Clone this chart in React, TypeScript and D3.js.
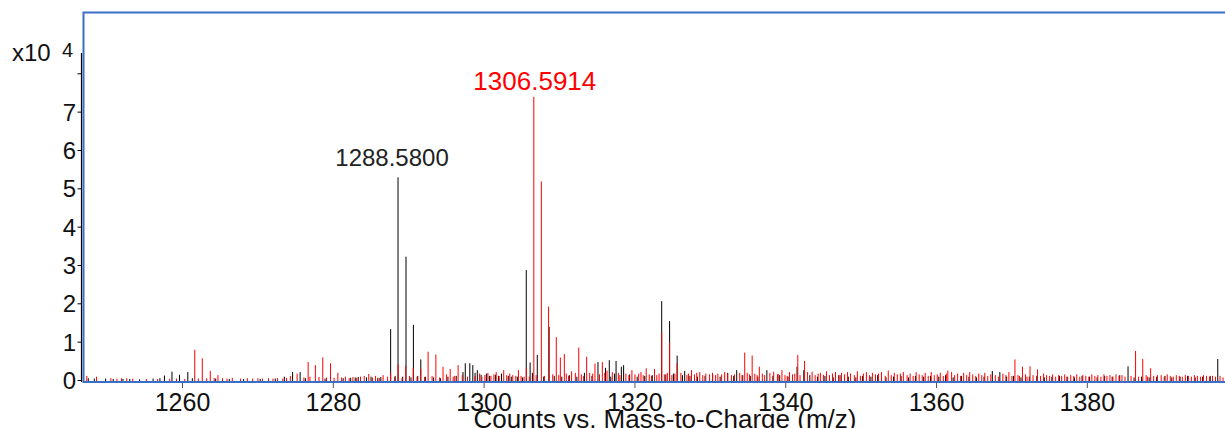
import React from "react";
import * as d3 from "d3";

// Intensities are in units of 10^4 counts.
type Peak = [number, number];

// Annotated base peaks (m/z, intensity)
const labelledBlack: Peak = [1288.58, 5.3];
const labelledRed: Peak = [1306.5914, 7.4];

// Main black (profile A) sticks
const blackMajor: Peak[] = [
  [1257.6, 0.13], [1258.6, 0.23], [1259.6, 0.15], [1260.7, 0.22],
  [1274.6, 0.22], [1275.6, 0.22],
  [1287.6, 1.34], labelledBlack, [1289.64, 3.23], [1290.62, 1.45], [1291.6, 0.55],
  [1297.5, 0.45], [1298.1, 0.45], [1298.5, 0.4], [1299.1, 0.27],
  [1305.59, 2.88], [1306.1, 0.47], [1307.05, 0.67], [1308.62, 1.4],
  [1315.1, 0.48], [1316.1, 0.33], [1316.6, 0.53], [1317.5, 0.51], [1318.5, 0.4],
  [1323.55, 2.07], [1324.6, 1.55], [1325.6, 0.65], [1326.6, 0.25],
  [1333.5, 0.27], [1337.5, 0.27], [1341.5, 0.36], [1342.4, 0.27],
  [1367.4, 0.25], [1368.4, 0.22], [1385.4, 0.37], [1397.3, 0.56],
];

// Low-level black noise sticks
const blackGrass: Peak[] = [
  [1247.5, 0.06], [1248.3, 0.05], [1249.8, 0.05], [1250.8, 0.04], [1252.1, 0.04],
  [1253.0, 0.04], [1254.3, 0.03], [1256.1, 0.05], [1257.0, 0.06], [1261.3, 0.06],
  [1264.4, 0.05], [1266.2, 0.04], [1268.1, 0.04], [1270.3, 0.04], [1272.3, 0.05],
  [1273.5, 0.1], [1276.3, 0.06], [1278.9, 0.05], [1281.3, 0.06], [1282.3, 0.07],
  [1282.9, 0.08], [1283.3, 0.09], [1284.4, 0.08], [1285.0, 0.1], [1285.9, 0.07],
  [1286.3, 0.09], [1288.2, 0.12], [1289.2, 0.1], [1290.3, 0.08], [1291.2, 0.12],
  [1292.2, 0.1], [1293.3, 0.08], [1294.2, 0.06], [1295.2, 0.1], [1296.3, 0.12],
  [1297.2, 0.22], [1298.8, 0.2], [1299.6, 0.15], [1300.3, 0.18], [1300.7, 0.12],
  [1301.5, 0.15], [1301.9, 0.12], [1302.3, 0.18], [1303.2, 0.12], [1303.6, 0.1],
  [1304.4, 0.1], [1305.1, 0.08], [1306.4, 0.2], [1307.9, 0.1], [1309.3, 0.12],
  [1310.3, 0.1], [1311.3, 0.14], [1312.3, 0.1], [1313.3, 0.2], [1314.3, 0.12],
  [1316.8, 0.1], [1317.3, 0.18], [1318.2, 0.36], [1319.3, 0.16], [1320.3, 0.1],
  [1321.3, 0.12], [1322.3, 0.14], [1324.1, 0.16], [1325.1, 0.18], [1326.3, 0.14],
  [1327.3, 0.12], [1328.3, 0.1], [1329.3, 0.12], [1330.3, 0.16], [1331.3, 0.1],
  [1332.3, 0.2], [1333.1, 0.12], [1334.3, 0.14], [1335.3, 0.12], [1336.3, 0.1],
  [1338.3, 0.12], [1339.2, 0.14], [1340.3, 0.1], [1343.2, 0.14], [1344.2, 0.1],
  [1345.2, 0.12], [1346.3, 0.08], [1347.2, 0.14], [1348.3, 0.1], [1349.3, 0.08],
  [1350.2, 0.12], [1351.3, 0.1], [1352.2, 0.14], [1353.3, 0.08], [1354.3, 0.1],
  [1355.3, 0.12], [1356.3, 0.08], [1357.2, 0.12], [1358.3, 0.1], [1359.2, 0.12],
  [1360.3, 0.1], [1361.2, 0.14], [1362.2, 0.08], [1363.3, 0.12], [1364.3, 0.1],
  [1365.3, 0.08], [1366.3, 0.1], [1369.3, 0.1], [1370.2, 0.12], [1371.2, 0.08],
  [1372.3, 0.1], [1373.3, 0.12], [1374.3, 0.08], [1375.3, 0.1], [1376.3, 0.12],
  [1377.3, 0.1], [1378.3, 0.08], [1379.3, 0.12], [1380.3, 0.1], [1381.3, 0.08],
  [1382.3, 0.12], [1383.3, 0.1], [1384.3, 0.14], [1386.2, 0.08], [1387.2, 0.1],
  [1388.2, 0.08], [1389.2, 0.1], [1390.3, 0.12], [1391.2, 0.08], [1392.3, 0.1],
  [1393.3, 0.12], [1394.3, 0.08], [1395.3, 0.1], [1396.3, 0.12],
];

// Main red (profile B) sticks
const redMajor: Peak[] = [
  [1261.62, 0.8], [1262.62, 0.58], [1263.68, 0.25], [1264.7, 0.14],
  [1276.66, 0.48], [1277.62, 0.4], [1278.6, 0.6], [1279.63, 0.45], [1280.6, 0.2],
  [1284.7, 0.17], [1286.6, 0.14],
  [1287.6, 0.2], [1288.6, 0.42], [1289.6, 0.38], [1290.6, 0.33], [1291.6, 0.3],
  [1292.57, 0.75], [1293.6, 0.68], [1294.55, 0.36], [1295.5, 0.3], [1296.55, 0.4],
  [1305.6, 0.33], labelledRed, [1307.59, 5.19], [1308.55, 1.93], [1309.57, 1.13],
  [1310.11, 0.6], [1310.64, 0.69], [1312.55, 0.86], [1313.6, 0.62], [1315.68, 0.48],
  [1319.6, 0.27], [1321.5, 0.32], [1322.6, 0.3],
  [1323.55, 1.24], [1324.6, 0.99], [1325.6, 0.45], [1327.5, 0.27],
  [1334.56, 0.73], [1335.55, 0.65], [1336.5, 0.36], [1338.4, 0.23], [1339.5, 0.27],
  [1341.6, 0.67], [1342.5, 0.51],
  [1370.4, 0.55], [1371.4, 0.36], [1372.4, 0.37], [1373.4, 0.29],
  [1386.4, 0.77], [1387.35, 0.56], [1388.4, 0.32], [1389.3, 0.14],
];

// Low-level red noise sticks
const redGrass: Peak[] = [
  [1247.3, 0.12], [1248.6, 0.1], [1250.5, 0.06], [1251.3, 0.05], [1251.9, 0.06],
  [1252.6, 0.06], [1253.4, 0.05], [1255.2, 0.04], [1256.7, 0.04], [1258.3, 0.05],
  [1259.2, 0.05], [1260.3, 0.04], [1262.1, 0.05], [1263.2, 0.06], [1264.2, 0.07],
  [1265.3, 0.06], [1265.9, 0.05], [1266.6, 0.07], [1267.7, 0.05], [1268.6, 0.06],
  [1269.3, 0.05], [1270.0, 0.06], [1270.6, 0.05], [1271.4, 0.06], [1272.0, 0.05],
  [1272.6, 0.06], [1273.3, 0.05], [1273.8, 0.07], [1274.3, 0.12], [1275.2, 0.18],
  [1276.1, 0.08], [1276.9, 0.1], [1278.1, 0.09], [1279.1, 0.08], [1280.1, 0.07],
  [1281.1, 0.08], [1281.6, 0.1], [1282.1, 0.06], [1282.6, 0.09], [1283.1, 0.07],
  [1283.6, 0.1], [1284.1, 0.12], [1285.2, 0.08], [1285.6, 0.12], [1286.1, 0.06],
  [1287.2, 0.1], [1288.1, 0.08], [1289.1, 0.06], [1290.1, 0.12], [1291.1, 0.1],
  [1292.1, 0.09], [1293.1, 0.12], [1294.1, 0.08], [1295.0, 0.16], [1295.9, 0.1],
  [1296.1, 0.12], [1297.1, 0.14], [1297.8, 0.1], [1298.8, 0.12], [1299.4, 0.18],
  [1299.7, 0.1], [1300.1, 0.14], [1300.5, 0.2], [1300.9, 0.12], [1301.3, 0.16],
  [1301.6, 0.22], [1302.0, 0.12], [1302.6, 0.27], [1303.0, 0.14], [1303.4, 0.18],
  [1303.8, 0.14], [1304.2, 0.12], [1304.55, 0.27], [1304.9, 0.12], [1305.3, 0.1],
  [1306.0, 0.1], [1306.9, 0.14], [1308.0, 0.12], [1309.1, 0.16], [1309.9, 0.14],
  [1310.9, 0.18], [1311.2, 0.12], [1311.6, 0.24], [1312.1, 0.2], [1312.9, 0.16],
  [1313.2, 0.12], [1314.0, 0.2], [1314.4, 0.18], [1314.7, 0.44], [1315.3, 0.16],
  [1316.0, 0.2], [1316.3, 0.26], [1317.0, 0.22], [1317.8, 0.2], [1318.0, 0.14],
  [1318.8, 0.18], [1319.2, 0.14], [1320.0, 0.16], [1320.5, 0.18], [1320.8, 0.22],
  [1321.1, 0.14], [1321.9, 0.16], [1322.2, 0.12], [1322.9, 0.14], [1323.2, 0.18],
  [1323.9, 0.16], [1324.3, 0.2], [1324.9, 0.14], [1325.3, 0.18], [1326.1, 0.2],
  [1326.9, 0.14], [1327.1, 0.18], [1327.9, 0.16], [1328.2, 0.2], [1328.6, 0.22],
  [1329.0, 0.14], [1329.4, 0.18], [1329.9, 0.16], [1330.3, 0.2], [1330.7, 0.14],
  [1331.0, 0.18], [1331.5, 0.16], [1331.9, 0.22], [1332.3, 0.18], [1332.8, 0.14],
  [1333.2, 0.16], [1333.9, 0.2], [1334.2, 0.14], [1334.9, 0.2], [1335.2, 0.16],
  [1335.9, 0.18], [1336.2, 0.14], [1336.9, 0.18], [1337.2, 0.14], [1337.9, 0.2],
  [1338.9, 0.16], [1339.0, 0.17], [1339.9, 0.14], [1340.2, 0.12], [1340.5, 0.22],
  [1340.9, 0.16], [1341.2, 0.18], [1341.9, 0.14], [1342.9, 0.22], [1343.5, 0.23],
  [1343.9, 0.14], [1344.3, 0.18], [1344.6, 0.2], [1345.0, 0.15], [1345.4, 0.24],
  [1345.8, 0.14], [1346.2, 0.18], [1346.6, 0.22], [1347.0, 0.14], [1347.4, 0.2],
  [1347.8, 0.16], [1348.2, 0.22], [1348.6, 0.18], [1349.1, 0.14], [1349.5, 0.24],
  [1349.9, 0.12], [1350.3, 0.18], [1350.7, 0.22], [1351.1, 0.14], [1351.5, 0.2],
  [1351.9, 0.16], [1352.3, 0.18], [1352.7, 0.22], [1353.2, 0.12], [1353.6, 0.26],
  [1354.0, 0.14], [1354.4, 0.2], [1354.8, 0.16], [1355.2, 0.18], [1355.6, 0.22],
  [1356.1, 0.14], [1356.5, 0.18], [1356.9, 0.12], [1357.3, 0.22], [1357.7, 0.16],
  [1358.1, 0.14], [1358.5, 0.2], [1358.9, 0.12], [1359.3, 0.22], [1359.7, 0.14],
  [1360.1, 0.16], [1360.5, 0.2], [1360.9, 0.12], [1361.3, 0.18], [1361.5, 0.26],
  [1362.0, 0.22], [1362.4, 0.14], [1362.8, 0.18], [1363.2, 0.12], [1363.6, 0.2],
  [1364.0, 0.14], [1364.4, 0.22], [1364.8, 0.16], [1365.2, 0.12], [1365.6, 0.18],
  [1366.0, 0.14], [1366.4, 0.2], [1366.8, 0.12], [1367.2, 0.16], [1367.8, 0.14],
  [1368.2, 0.1], [1368.8, 0.18], [1369.2, 0.14], [1369.6, 0.22], [1370.0, 0.12],
  [1370.8, 0.14], [1371.0, 0.12], [1371.8, 0.16], [1372.0, 0.1], [1372.8, 0.14],
  [1373.8, 0.12], [1374.2, 0.18], [1374.6, 0.14], [1375.0, 0.12], [1375.4, 0.16],
  [1375.8, 0.1], [1376.2, 0.14], [1376.6, 0.12], [1377.0, 0.16], [1377.4, 0.1],
  [1377.8, 0.14], [1378.2, 0.12], [1378.6, 0.16], [1379.0, 0.1], [1379.4, 0.14],
  [1379.8, 0.12], [1380.2, 0.1], [1380.6, 0.16], [1381.0, 0.12], [1381.4, 0.14],
  [1381.8, 0.1], [1382.2, 0.16], [1382.6, 0.12], [1383.0, 0.14], [1383.4, 0.1],
  [1383.8, 0.16], [1384.2, 0.12], [1384.6, 0.14], [1385.0, 0.1], [1385.8, 0.12],
  [1386.8, 0.1], [1387.8, 0.14], [1388.0, 0.1], [1388.8, 0.12], [1389.8, 0.14],
  [1390.2, 0.1], [1390.6, 0.16], [1391.0, 0.12], [1391.4, 0.1], [1391.8, 0.14],
  [1392.2, 0.12], [1392.6, 0.1], [1393.0, 0.14], [1393.4, 0.12], [1393.8, 0.1],
  [1394.2, 0.14], [1394.6, 0.12], [1395.0, 0.1], [1395.4, 0.14], [1395.8, 0.12],
  [1396.2, 0.1], [1396.6, 0.12], [1397.0, 0.1], [1397.6, 0.12], [1398.0, 0.08],
];

const xTicks = [1260, 1280, 1300, 1320, 1340, 1360, 1380];
const yTicks = [0, 1, 2, 3, 4, 5, 6, 7, 8];
const yTickLabels = ["0", "1", "2", "3", "4", "5", "6", "7", ""];
const xTitle = "Counts vs. Mass-to-Charge (m/z)";

const W = 1225;
const H = 428;
const FONT = "'Liberation Sans', Arial, sans-serif";
const FRAME = "#3a6fc8";

export default function App() {
  const x = d3.scaleLinear().domain([1246.8, 1398.26]).range([83, 1225]);
  const y = d3.scaleLinear().domain([0, 8]).range([380.5, 73.8]);
  const base = 381;

  const sticks = (data: Peak[], color: string, key: string) =>
    data
      .filter((d) => d[0] >= x.domain()[0] && d[0] <= x.domain()[1])
      .map((d, i) => (
        <line
          key={key + i}
          x1={x(d[0])}
          x2={x(d[0])}
          y1={base}
          y2={y(d[1])}
          stroke={color}
          strokeWidth={1}
        />
      ));

  return (
    <svg
      width={W}
      height={H}
      style={{ position: "absolute", left: 0, top: 0, background: "#fff" }}
      fontFamily={FONT}
    >
      {/* plot frame */}
      <rect x={83.5} y={12.5} width={1160} height={369.5} fill="none" stroke={FRAME} strokeWidth={2} />

      {/* spectrum sticks: black first, red drawn over it */}
      <g>
        {sticks(blackGrass, "#000", "bg")}
        {sticks(blackMajor, "#000", "bm")}
        {sticks(redGrass, "#ff0000", "rg")}
        {sticks(redMajor, "#ff0000", "rm")}
      </g>

      {/* y axis */}
      <line x1={81.5} x2={81.5} y1={53} y2={382} stroke="#000" strokeWidth={1.2} />
      {yTicks.map((t, i) => (
        <g key={"yt" + t}>
          <line x1={77.5} x2={81.5} y1={y(t)} y2={y(t)} stroke="#000" strokeWidth={1} />
          <text x={76} y={y(t) + 8.5} fontSize={24} textAnchor="end" fill="#111">
            {yTickLabels[i]}
          </text>
        </g>
      ))}
      <text x={12} y={61} fontSize={24} fill="#111">x10</text>
      <text x={62} y={57} fontSize={20} fill="#111">4</text>

      {/* x axis ticks and labels */}
      {xTicks.map((t) => (
        <g key={"xt" + t}>
          <line x1={x(t)} x2={x(t)} y1={383} y2={388} stroke="#555" strokeWidth={1} />
          <text x={x(t)} y={411} fontSize={25} textAnchor="middle" fill="#111">
            {t}
          </text>
        </g>
      ))}
      <text x={665} y={428} fontSize={26} textAnchor="middle" fill="#111">
        {xTitle}
      </text>

      {/* peak annotations */}
      <text x={x(labelledBlack[0]) - 6} y={y(labelledBlack[1]) - 11} fontSize={24} textAnchor="middle" fill="#222">
        {labelledBlack[0].toFixed(4)}
      </text>
      <text x={x(labelledRed[0]) + 1} y={y(labelledRed[1]) - 7} fontSize={26} textAnchor="middle" fill="#ff0000">
        {labelledRed[0].toFixed(4)}
      </text>
    </svg>
  );
}
